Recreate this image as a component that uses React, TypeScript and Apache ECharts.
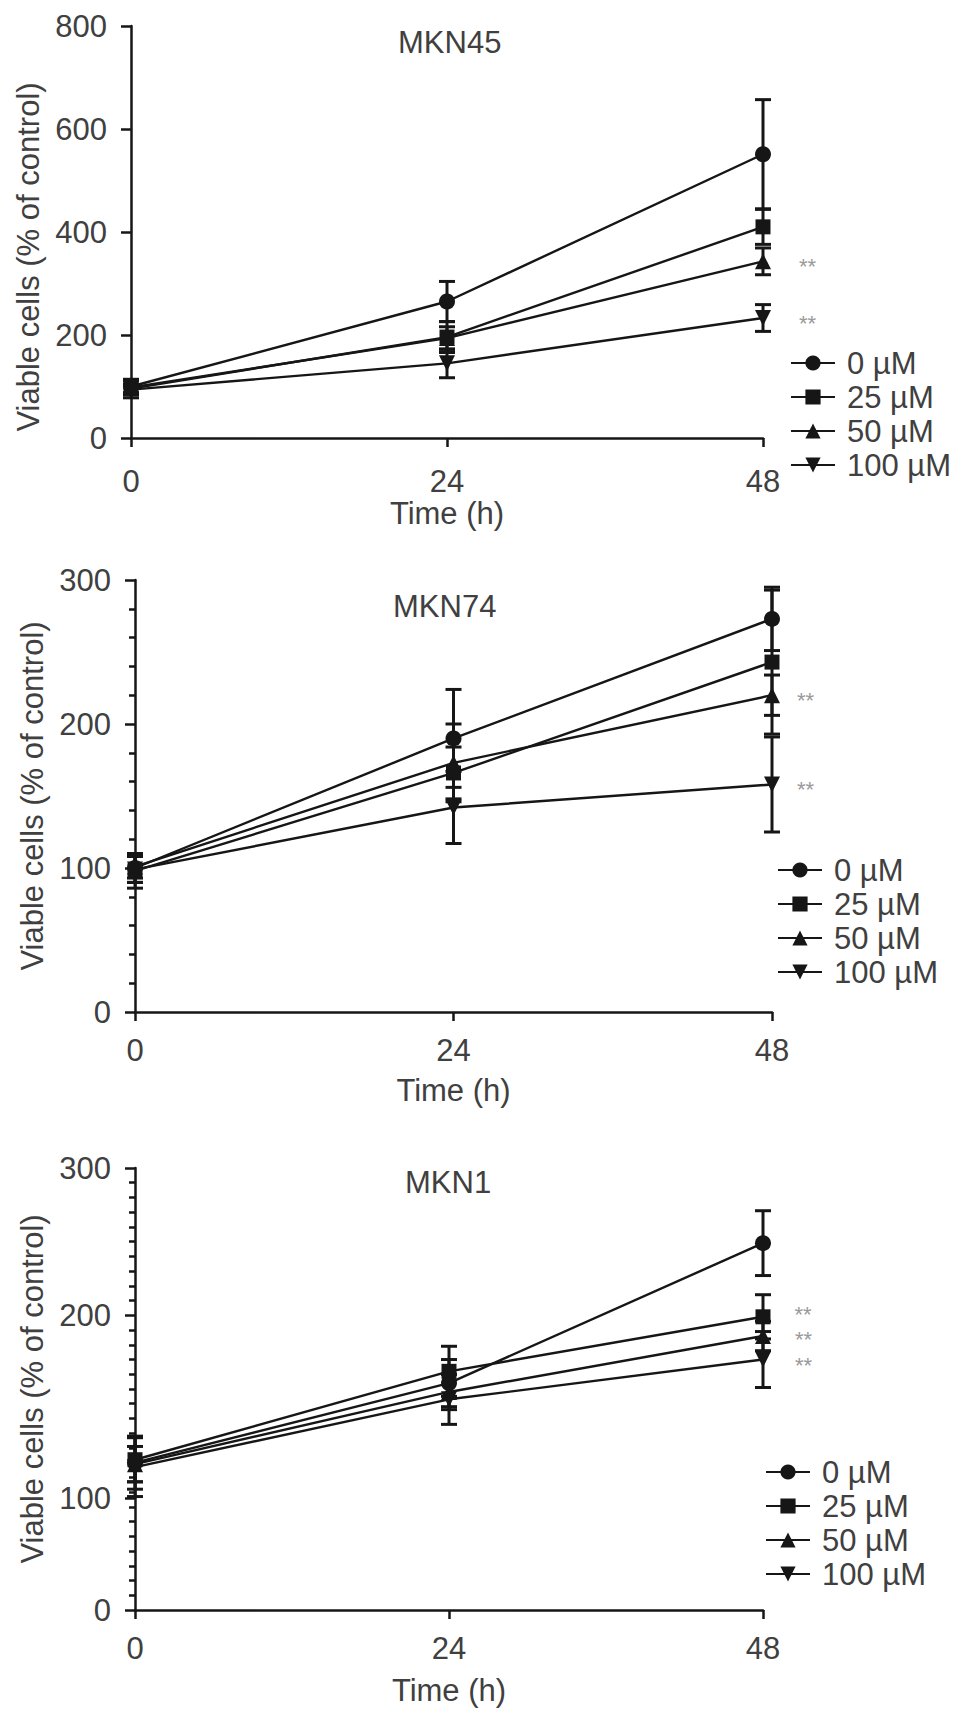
import React, { useEffect, useRef } from "react";
import * as echarts from "echarts";

// ---------- data ----------
const TIME_H = [0, 24, 48];
const TIME_TICKS = [0, 24, 48];
const CONC_NAMES = ["0 µM", "25 µM", "50 µM", "100 µM"];
const CONC_SYMBOLS = ["circle", "rect", "triangle", "triangle"];
const CONC_ROTATE = [0, 0, 0, 180];

// MKN45 (mean, SEM)
const MKN45_MEAN_0 = [100, 265, 551];
const MKN45_MEAN_25 = [96, 196, 410];
const MKN45_MEAN_50 = [98, 194, 343];
const MKN45_MEAN_100 = [94, 145, 233];
const MKN45_SEM_0 = [12, 39, 106];
const MKN45_SEM_25 = [18, 30, 34];
const MKN45_SEM_50 = [14, 22, 26];
const MKN45_SEM_100 = [10, 28, 26];
const MKN45_SIG = ["", "", "**", "**"];

// MKN74
const MKN74_MEAN_0 = [100, 190, 273];
const MKN74_MEAN_25 = [98, 166, 243];
const MKN74_MEAN_50 = [101, 173, 220];
const MKN74_MEAN_100 = [99, 142, 158];
const MKN74_SEM_0 = [10, 34, 22];
const MKN74_SEM_25 = [12, 18, 50];
const MKN74_SEM_50 = [8, 27, 14];
const MKN74_SEM_100 = [9, 25, 33];
const MKN74_SIG = ["", "", "**", "**"];

// MKN1
const MKN1_MEAN_0 = [100, 154, 249];
const MKN1_MEAN_25 = [102, 162, 199];
const MKN1_MEAN_50 = [99, 148, 186];
const MKN1_MEAN_100 = [97, 143, 170];
const MKN1_SEM_0 = [18, 16, 22];
const MKN1_SEM_25 = [15, 17, 15];
const MKN1_SEM_50 = [12, 12, 10];
const MKN1_SEM_100 = [20, 17, 19];
const MKN1_SIG = ["", "**", "**", "**"];

// y tick labels (MKN1 panel draws its "100" label lower than the linear position)
const MKN45_Y_TICKS = [0, 200, 400, 600, 800];
const MKN74_Y_TICKS = [0, 100, 200, 300];
const MKN1_Y_LABELS = ["0", "100", "200", "300"];
const MKN1_Y_LABEL_AT = [0, 76, 200, 300];

const PANEL_TITLES = ["MKN45", "MKN74", "MKN1"];
const X_NAME = "Time (h)";
const Y_NAME = "Viable cells (% of control)";

// ---------- styles ----------
const FONT = "'Liberation Sans', Arial, Helvetica, sans-serif";
const TEXT = "#404040";
const INK = "#161616";
const FS = 31;
const SIG_FS = 22;

const PANELS = [
  {
    title: PANEL_TITLES[0],
    means: [MKN45_MEAN_0, MKN45_MEAN_25, MKN45_MEAN_50, MKN45_MEAN_100],
    sems: [MKN45_SEM_0, MKN45_SEM_25, MKN45_SEM_50, MKN45_SEM_100],
    sig: MKN45_SIG,
    sigOffset: [0, 5, 5, 5],
    yMax: 800,
    yInterval: 200,
    yTicks: MKN45_Y_TICKS,
    yLabels: null as string[] | null,
    minor: 0,
    grid: { left: 131, top: 26, width: 632, height: 412 },
    titlePos: { left: 398, top: 27 },
    legendPos: { left: 790, top: 346 },
    xLabelMargin: 28,
    xNameGap: 60,
    yNamePad: [0, 50, 0, 0],
    sigDist: 28,
  },
  {
    title: PANEL_TITLES[1],
    means: [MKN74_MEAN_0, MKN74_MEAN_25, MKN74_MEAN_50, MKN74_MEAN_100],
    sems: [MKN74_SEM_0, MKN74_SEM_25, MKN74_SEM_50, MKN74_SEM_100],
    sig: MKN74_SIG,
    sigOffset: [0, 5, 5, 5],
    yMax: 300,
    yInterval: 100,
    yTicks: MKN74_Y_TICKS,
    yLabels: null as string[] | null,
    minor: 5,
    grid: { left: 135, top: 580, width: 637, height: 432 },
    titlePos: { left: 393, top: 591 },
    legendPos: { left: 777, top: 853 },
    xLabelMargin: 23,
    xNameGap: 63,
    yNamePad: [0, 0, 0, 0],
    sigDist: 17,
  },
  {
    title: PANEL_TITLES[2],
    means: [MKN1_MEAN_0, MKN1_MEAN_25, MKN1_MEAN_50, MKN1_MEAN_100],
    sems: [MKN1_SEM_0, MKN1_SEM_25, MKN1_SEM_50, MKN1_SEM_100],
    sig: MKN1_SIG,
    sigOffset: [0, -2, 4, 6],
    yMax: 300,
    yInterval: 100,
    yTicks: MKN1_Y_LABEL_AT,
    yLabels: MKN1_Y_LABELS as string[] | null,
    minor: 10,
    grid: { left: 135, top: 1168, width: 628, height: 442 },
    titlePos: { left: 405, top: 1167 },
    legendPos: { left: 765, top: 1455 },
    xLabelMargin: 23,
    xNameGap: 65,
    yNamePad: [0, 0, 0, 0],
    sigDist: 24,
  },
];

function buildOption() {
  const grid: any[] = [];
  const xAxis: any[] = [];
  const yAxis: any[] = [];
  const series: any[] = [];
  const title: any[] = [];
  const legend: any[] = [];

  PANELS.forEach((p, pi) => {
    grid.push({ ...p.grid, containLabel: false });
    title.push({
      text: p.title,
      left: p.titlePos.left,
      top: p.titlePos.top,
      padding: 0,
      textStyle: { fontFamily: FONT, fontSize: FS, fontWeight: "normal", color: TEXT },
    });
    xAxis.push({
      type: "value",
      gridIndex: pi,
      min: 0,
      max: 48,
      interval: 24,
      name: X_NAME,
      nameLocation: "middle",
      nameGap: p.xNameGap,
      nameTextStyle: { fontFamily: FONT, fontSize: FS, color: TEXT },
      axisLine: { show: true, lineStyle: { color: INK, width: 2.5 } },
      axisTick: { show: true, length: 9, inside: false, lineStyle: { color: INK, width: 2.5 } },
      axisLabel: {
        margin: p.xLabelMargin,
        fontFamily: FONT,
        fontSize: FS,
        color: TEXT,
        customValues: TIME_TICKS,
      },
      splitLine: { show: false },
    });
    const yLabels = p.yLabels;
    yAxis.push({
      type: "value",
      gridIndex: pi,
      min: 0,
      max: p.yMax,
      interval: p.yInterval,
      name: Y_NAME,
      nameLocation: "middle",
      nameRotate: 90,
      nameGap: 86,
      nameTextStyle: { fontFamily: FONT, fontSize: FS, color: TEXT, padding: p.yNamePad },
      axisLine: { show: true, lineStyle: { color: INK, width: 2.5 } },
      axisTick: {
        show: true,
        length: 10,
        lineStyle: { color: INK, width: 2.5 },
        customValues: p.yTicks,
      },
      minorTick: p.minor
        ? { show: true, splitNumber: p.minor, length: 6, lineStyle: { color: INK, width: 2.5 } }
        : { show: false },
      axisLabel: {
        margin: 24,
        fontFamily: FONT,
        fontSize: FS,
        color: TEXT,
        customValues: p.yTicks,
        formatter: (v: number) => {
          if (!yLabels) return String(v);
          const i = p.yTicks.indexOf(v);
          return i >= 0 ? yLabels[i] : "";
        },
      },
      splitLine: { show: false },
    });

    // error bars
    const errData: number[][] = [];
    p.means.forEach((m, si) => {
      TIME_H.forEach((t, ti) => {
        errData.push([t, m[ti] - p.sems[si][ti], m[ti] + p.sems[si][ti]]);
      });
    });
    series.push({
      type: "custom",
      name: "SEM " + p.title,
      xAxisIndex: pi,
      yAxisIndex: pi,
      z: 3,
      silent: true,
      encode: { x: 0, y: [1, 2] },
      data: errData,
      renderItem: (params: any, api: any) => {
        const x = api.value(0);
        const top = api.coord([x, api.value(2)]);
        const bot = api.coord([x, api.value(1)]);
        const w = 8;
        const style = { stroke: INK, lineWidth: 3, fill: "none" };
        return {
          type: "group",
          children: [
            { type: "line", shape: { x1: top[0], y1: top[1], x2: bot[0], y2: bot[1] }, style },
            { type: "line", shape: { x1: top[0] - w, y1: top[1], x2: top[0] + w, y2: top[1] }, style },
            { type: "line", shape: { x1: bot[0] - w, y1: bot[1], x2: bot[0] + w, y2: bot[1] }, style },
          ],
        };
      },
    });

    // lines
    p.means.forEach((m, si) => {
      series.push({
        type: "line",
        name: CONC_NAMES[si],
        xAxisIndex: pi,
        yAxisIndex: pi,
        z: 4,
        symbol: CONC_SYMBOLS[si],
        symbolSize: si === 1 ? 15 : 16,
        symbolRotate: CONC_ROTATE[si],
        showAllSymbol: true,
        itemStyle: { color: INK, borderWidth: 0 },
        lineStyle: { color: INK, width: 2.4 },
        emphasis: { disabled: true },
        data: TIME_H.map((t, ti) => {
          const item: any = { value: [t, m[ti]] };
          if (ti === TIME_H.length - 1 && p.sig[si]) {
            item.label = {
              show: true,
              formatter: p.sig[si],
              position: "right",
              distance: p.sigDist,
              offset: [0, p.sigOffset[si]],
              fontFamily: FONT,
              fontSize: SIG_FS,
              color: "#9a9a9a",
            };
          }
          return item;
        }),
      });
    });

    legend.push({
      orient: "vertical",
      left: p.legendPos.left,
      top: p.legendPos.top,
      padding: 0,
      itemGap: 0,
      itemWidth: 44,
      itemHeight: 19,
      selectedMode: false,
      data: CONC_NAMES,
      textStyle: {
        fontFamily: FONT,
        fontSize: FS,
        color: TEXT,
        lineHeight: 34,
        padding: [0, 0, 0, 7],
      },
    });
  });

  return {
    animation: false,
    backgroundColor: "#ffffff",
    textStyle: { fontFamily: FONT },
    title,
    legend,
    grid,
    xAxis,
    yAxis,
    series,
  };
}

export default function App() {
  const ref = useRef<HTMLDivElement>(null);
  useEffect(() => {
    if (!ref.current) return;
    const chart = echarts.init(ref.current, undefined, { renderer: "svg" });
    chart.setOption(buildOption() as any);
    return () => chart.dispose();
  }, []);
  return (
    <div
      ref={ref}
      style={{ position: "absolute", left: 0, top: 0, width: 969, height: 1720, background: "#fff" }}
    />
  );
}
